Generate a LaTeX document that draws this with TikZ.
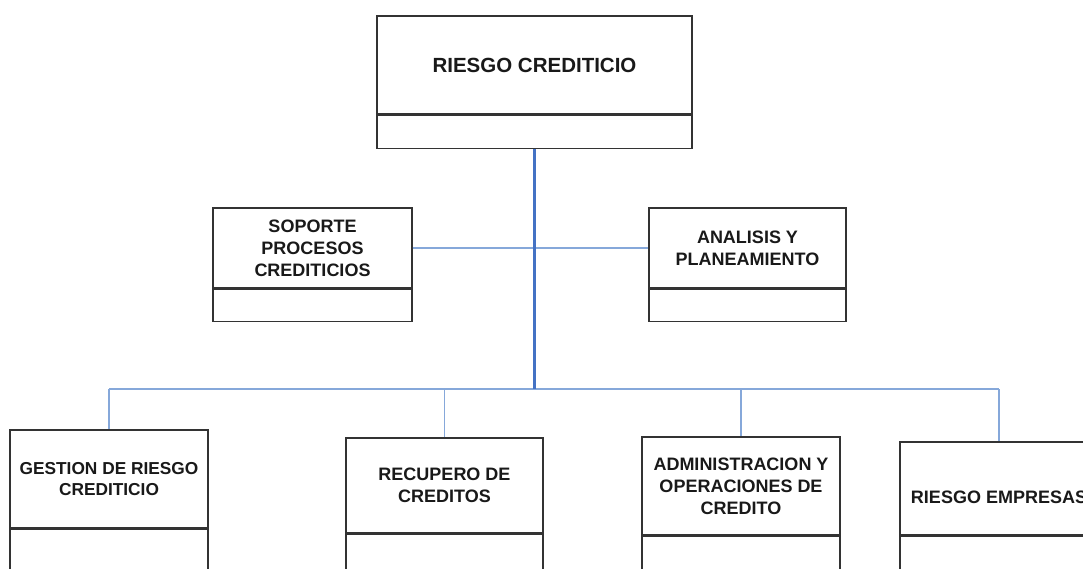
\documentclass[tikz,border=0pt]{standalone}
\usepackage{fontspec}
\setmainfont{Liberation Sans}
\definecolor{trunkblue}{HTML}{4472C4}
\definecolor{branchblue}{HTML}{86A8DA}
\definecolor{boxline}{HTML}{333333}
\tikzset{
  hdr/.style={draw=boxline, line width=1.3pt, fill=white, inner sep=2pt, align=center,
    font=\bfseries\fontsize{18}{22}\selectfont, text=black!90},
  ftr/.style={draw=boxline, line width=1.3pt, fill=white, inner sep=0pt},
  trunk/.style={draw=trunkblue, line width=2.3pt},
  branch/.style={draw=branchblue, line width=1.3pt},
}
\begin{document}
\begin{tikzpicture}[x=1pt,y=-1pt]
\useasboundingbox (0,0) rectangle (1083,568);
\clip (0,0) rectangle (1083,568);
\coordinate (bus) at (534.5,389);
\coordinate (midy) at (534.5,248);
% top
\node[hdr, minimum width=315pt, minimum height=98pt, font=\bfseries\fontsize{20.5}{24}\selectfont] (top) at (534.5,65) {RIESGO CREDITICIO};
\node[ftr, minimum width=315pt, minimum height=33pt, anchor=north] (top2) at (top.south) {};
% middle
\node[hdr, minimum width=199pt, minimum height=80pt] (sop) at (312.5,248) {SOPORTE\\PROCESOS\\CREDITICIOS};
\node[ftr, minimum width=199pt, minimum height=32pt, anchor=north] (sop2) at (sop.south) {};
\node[hdr, minimum width=197pt, minimum height=80pt] (ana) at (747.5,248) {ANALISIS Y\\PLANEAMIENTO};
\node[ftr, minimum width=197pt, minimum height=32pt, anchor=north] (ana2) at (ana.south) {};
% bottom
\node[hdr, minimum width=198pt, minimum height=98pt, font=\bfseries\fontsize{17.3}{21.5}\selectfont] (ges) at (109,479) {GESTION DE RIESGO\\CREDITICIO};
\node[ftr, minimum width=198pt, minimum height=70pt, anchor=north] (ges2) at (ges.south) {};
\node[hdr, minimum width=197pt, minimum height=95pt] (rec) at (444.5,485.5) {RECUPERO DE\\CREDITOS};
\node[ftr, minimum width=197pt, minimum height=70pt, anchor=north] (rec2) at (rec.south) {};
\node[hdr, minimum width=198pt, minimum height=98pt] (adm) at (741,486) {ADMINISTRACION Y\\OPERACIONES DE\\CREDITO};
\node[ftr, minimum width=198pt, minimum height=70pt, anchor=north] (adm2) at (adm.south) {};
\node[hdr, minimum width=198pt, minimum height=93pt] (emp) at (999,488.5) {};
\node[font=\bfseries\fontsize{18}{22}\selectfont, text=black!90, inner sep=0pt] (emptext) at (999,497) {RIESGO EMPRESAS};
\node[ftr, minimum width=198pt, minimum height=70pt, anchor=north] (emp2) at (emp.south) {};
% connectors
\draw[branch] (sop.east |- midy) -- (ana.west |- midy);
\draw[branch] (bus -| ges.north) -- (bus -| emp.north);
\draw[branch] (bus -| ges.north) -- (ges.north);
\draw[branch] (bus -| rec.north) -- (rec.north);
\draw[branch] (bus -| adm.north) -- (adm.north);
\draw[branch] (bus -| emp.north) -- (emp.north);
\draw[trunk] (top2.south) -- (bus);
\end{tikzpicture}
\end{document}
